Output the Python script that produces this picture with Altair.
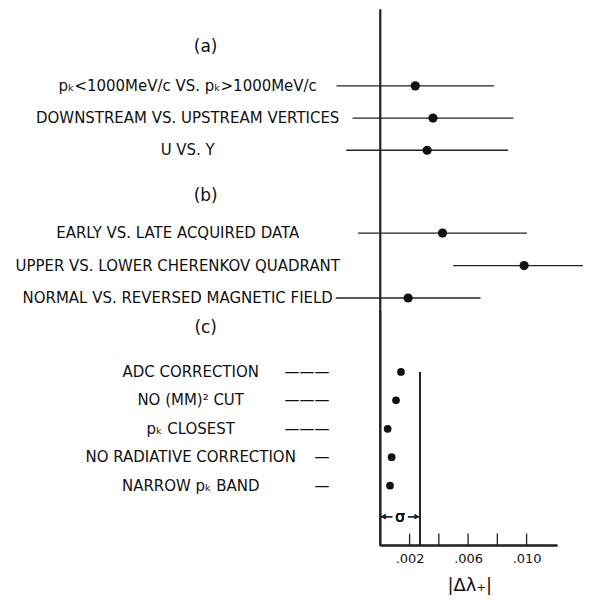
import altair as alt
import pandas as pd

# ---------------- data ----------------
header_a = "(a)"
labels_a = ["pₖ<1000MeV/c VS. pₖ>1000MeV/c",
            "DOWNSTREAM VS. UPSTREAM VERTICES",
            "U VS. Y"]
values_a = [0.00239, 0.00360, 0.00320]
errors_a = [0.00539, 0.00550, 0.00553]

header_b = "(b)"
labels_b = ["EARLY VS. LATE ACQUIRED DATA",
            "UPPER VS. LOWER CHERENKOV QUADRANT",
            "NORMAL VS. REVERSED MAGNETIC FIELD"]
values_b = [0.00425, 0.00983, 0.00190]
errors_b = [0.00577, 0.00485, 0.00495]

header_c = "(c)"
labels_c = ["ADC CORRECTION",
            "NO (MM)² CUT",
            "pₖ CLOSEST",
            "NO RADIATIVE CORRECTION",
            "NARROW pₖ BAND"]
values_c = [0.00141, 0.00107, 0.00050, 0.00077, 0.00066]
leaders_c = ["———", "———", "———", "—", "—"]

sigma = 0.0027
tick_values = [0.002, 0.004, 0.006, 0.008, 0.010]
label_values = [0.002, 0.006, 0.010]
axis_end = 0.0121
x_title = "|Δλ₊|"

# ---------------- layout / style ----------------
W = 576
X_DOMAIN = [-0.02546, 0.013857]
FONT = "DejaVu Sans"
INK = "#111111"
LINE = "#222222"


def xs():
    return alt.Scale(domain=X_DOMAIN, clamp=True, nice=False, zero=False)


def panel(labels, values, errors, header, height, y_range, label_x, header_y,
          axis=None, extra=None, dot_size=85):
    df = pd.DataFrame({"label": labels, "value": values})
    if errors is not None:
        df["lo"] = [v - e for v, e in zip(values, errors)]
        df["hi"] = [v + e for v, e in zip(values, errors)]
    ys = alt.Scale(type="point", domain=labels, range=y_range, padding=0)
    Y = alt.Y("label:N", scale=ys, axis=None)
    base = alt.Chart(df)

    layers = []
    zero = base.mark_rule(color=LINE, strokeWidth=1.6).encode(
        x=alt.X(datum=0, type="quantitative", scale=xs(), axis=axis))
    layers.append(zero)
    if errors is not None:
        err = base.mark_rule(color=LINE, strokeWidth=1.3).encode(
            x=alt.X("lo:Q", scale=xs(), axis=axis), x2="hi:Q", y=Y)
        layers.append(err)
    dots = base.mark_circle(size=dot_size, color=INK, opacity=1).encode(
        x=alt.X("value:Q", scale=xs(), axis=axis), y=Y)
    layers.append(dots)
    txt = base.mark_text(font=FONT, fontSize=15, color=INK, align="center",
                         baseline="middle").encode(
        x=alt.value(label_x), y=Y, text="label:N")
    layers.append(txt)
    hdr = alt.Chart(pd.DataFrame({"h": [header]})).mark_text(
        font=FONT, fontSize=17, color=INK, align="center", baseline="middle").encode(
        x=alt.value(198), y=alt.value(header_y), text="h:N")
    layers.append(hdr)
    if extra is not None:
        layers += extra(base, Y, ys)
    return alt.layer(*layers).properties(width=W, height=height)


xaxis_c = alt.Axis(values=label_values,
                   labelExpr="replace(format(datum.value, '.3f'), '0.', '.')",
                   domain=False, ticks=False, grid=False,
                   labelFont=FONT, labelFontSize=13, labelColor=INK, labelPadding=7,
                   title=x_title, titleFont=FONT, titleFontSize=18,
                   titleFontWeight="normal", titleColor=INK,
                   titleX=462, titleY=40, titleAlign="center", titleBaseline="middle")

HC = 235


def extra_c(base, Y, ys):
    df = pd.DataFrame({"label": labels_c, "lead": leaders_c})
    lead = alt.Chart(df).mark_text(font=FONT, fontSize=15, color=INK, align="right",
                                   baseline="middle").encode(
        x=alt.value(322), y=Y, text="lead:N")
    sig_line = base.mark_rule(color=LINE, strokeWidth=1.3).encode(
        x=alt.X(datum=sigma, type="quantitative", scale=xs(), axis=xaxis_c),
        y=alt.Y(datum=labels_c[0], type="nominal", scale=ys, axis=None),
        y2=alt.value(HC))
    axis_line = base.mark_rule(color=LINE, strokeWidth=1.5).encode(
        x=alt.X(datum=0, type="quantitative", scale=xs(), axis=xaxis_c),
        x2=alt.X2(datum=axis_end), y=alt.value(HC))
    tdf = pd.DataFrame({"t": tick_values})
    ticks = alt.Chart(tdf).mark_rule(color=LINE, strokeWidth=1.3).encode(
        x=alt.X("t:Q", scale=xs(), axis=xaxis_c),
        y=alt.value(HC - 12), y2=alt.value(HC))
    sy = 206
    arr1 = base.mark_rule(color=LINE, strokeWidth=1.2).encode(
        x=alt.X(datum=0, type="quantitative", scale=xs(), axis=xaxis_c),
        x2=alt.X2(datum=sigma * 0.3), y=alt.value(sy))
    arr2 = base.mark_rule(color=LINE, strokeWidth=1.2).encode(
        x=alt.X(datum=sigma * 0.7, type="quantitative", scale=xs(), axis=xaxis_c),
        x2=alt.X2(datum=sigma), y=alt.value(sy))
    head_l = base.mark_point(shape="triangle-left", filled=True, size=22,
                             color=LINE, opacity=1, xOffset=3).encode(
        x=alt.X(datum=0, type="quantitative", scale=xs(), axis=xaxis_c), y=alt.value(sy))
    head_r = base.mark_point(shape="triangle-right", filled=True, size=22,
                             color=LINE, opacity=1, xOffset=-3).encode(
        x=alt.X(datum=sigma, type="quantitative", scale=xs(), axis=xaxis_c), y=alt.value(sy))
    sig_txt = base.mark_text(font=FONT, fontSize=15, color=INK, align="center",
                             baseline="middle").encode(
        x=alt.X(datum=sigma / 2, type="quantitative", scale=xs(), axis=xaxis_c),
        y=alt.value(sy), text=alt.value("σ"))
    return [lead, sig_line, axis_line, ticks, arr1, arr2, head_l, head_r, sig_txt]


pa = panel(labels_a, values_a, errors_a, header_a, 164, [76.5, 141], 180, 38)
pb = panel(labels_b, values_b, errors_b, header_b, 138, [60, 125], 170, 23)
pc = panel(labels_c, values_c, None, header_c, HC, [61, 175], 183, 17,
           axis=xaxis_c, extra=extra_c, dot_size=60)

chart = alt.vconcat(pa, pb, pc, spacing=0, bounds="flush").properties(
    padding=0, background="white"
).configure_view(stroke=None).configure_concat(spacing=0)

chart.save("out.html", embed_options={"renderer": "svg", "actions": False})
